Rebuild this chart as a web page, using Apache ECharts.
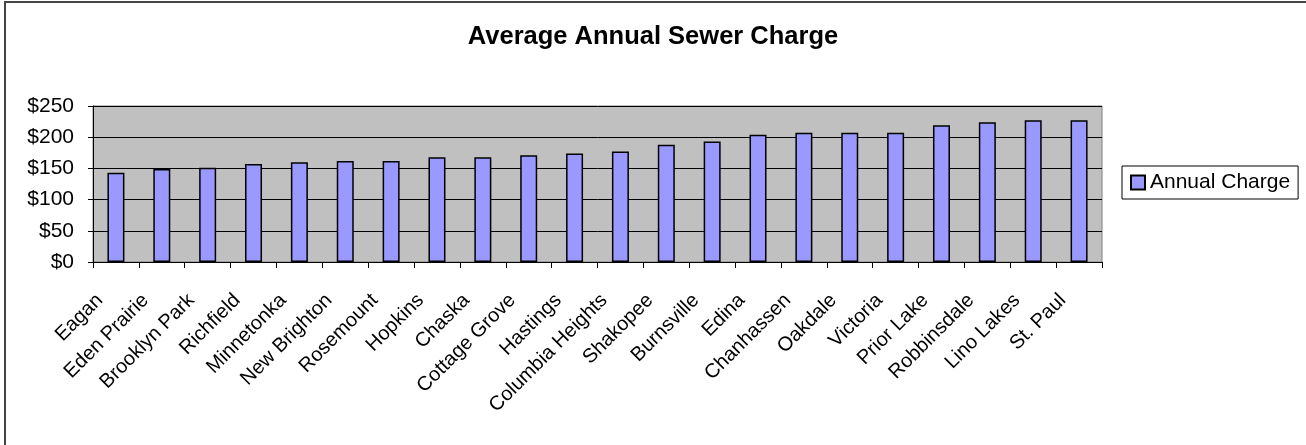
<!DOCTYPE html>
<html>
<head>
<meta charset="utf-8">
<title>Average Annual Sewer Charge</title>
<script src="https://cdn.jsdelivr.net/npm/echarts@6/dist/echarts.min.js"></script>
<style>
  html, body { margin: 0; padding: 0; background: #fff; }
  #chart { width: 1306px; height: 445px; }
</style>
</head>
<body>
<div id="chart"></div>
<script>
// city names along the x axis
var cities = ['Eagan', 'Eden Prairie', 'Brooklyn Park', 'Richfield', 'Minnetonka',
  'New Brighton', 'Rosemount', 'Hopkins', 'Chaska', 'Cottage Grove', 'Hastings',
  'Columbia Heights', 'Shakopee', 'Burnsville', 'Edina', 'Chanhassen', 'Oakdale',
  'Victoria', 'Prior Lake', 'Robbinsdale', 'Lino Lakes', 'St. Paul']
// annual charge in dollars
var charges = [143, 149, 151, 157, 160, 162, 162, 168, 168, 171, 174,
  177, 188, 193, 204, 207, 207, 207, 219, 224, 227, 227]
var yTicks = [0, 50, 100, 150, 200, 250]

var font = 'Arial, "Liberation Sans", Helvetica, sans-serif'
var chart = echarts.init(document.getElementById('chart'))

chart.setOption({
  backgroundColor: '#fff',
  animation: false,
  title: {
    text: 'Average Annual Sewer Charge',
    left: 'center',
    top: 19,
    textStyle: {
      color: '#000',
      fontSize: 25.5,
      fontWeight: 'bold',
      fontFamily: font
    }
  },
  legend: {
    data: ['Annual Charge'],
    left: 1122,
    top: 166,
    orient: 'vertical',
    padding: [6, 8, 6, 8],
    borderColor: '#000',
    borderWidth: 1,
    backgroundColor: '#fff',
    itemWidth: 14,
    itemHeight: 14,
    itemGap: 6,
    icon: 'rect',
    selectedMode: false,
    textStyle: {
      color: '#000',
      fontSize: 21,
      fontFamily: font
    }
  },
  // outer chart frame, its right and bottom sides fall outside the picture
  graphic: [
    {
      type: 'rect',
      silent: true,
      shape: { x: 5, y: 2, width: 1400, height: 500 },
      style: { fill: 'none', stroke: '#444', lineWidth: 2 }
    }
  ],
  grid: {
    left: 93,
    right: 204,
    top: 106,
    bottom: 183,
    show: true,
    backgroundColor: '#c0c0c0',
    borderColor: '#808080',
    borderWidth: 1
  },
  xAxis: {
    type: 'category',
    data: cities,
    axisLine: { show: true, lineStyle: { color: '#000', width: 1 } },
    axisTick: { show: true, length: 6, lineStyle: { color: '#000' } },
    axisLabel: {
      interval: 0,
      rotate: 45,
      margin: 19,
      padding: [0, 23, 0, 0],
      color: '#000',
      fontSize: 20,
      fontFamily: font
    }
  },
  yAxis: {
    type: 'value',
    min: 0,
    max: 250,
    interval: 50,
    axisLine: { show: true, lineStyle: { color: '#000', width: 1 } },
    axisTick: { show: true, length: 5, lineStyle: { color: '#000' } },
    splitLine: { show: true, lineStyle: { color: '#000', width: 1 } },
    axisLabel: {
      margin: 19,
      color: '#000',
      fontSize: 21,
      fontFamily: font,
      formatter: function (v) {
        return yTicks.indexOf(v) >= 0 ? '$' + v : ''
      }
    }
  },
  series: [
    {
      name: 'Annual Charge',
      type: 'bar',
      data: charges,
      barWidth: 17,
      itemStyle: {
        color: '#9999ff',
        borderColor: '#000',
        borderWidth: 1.5
      }
    }
  ]
})
</script>
</body>
</html>
